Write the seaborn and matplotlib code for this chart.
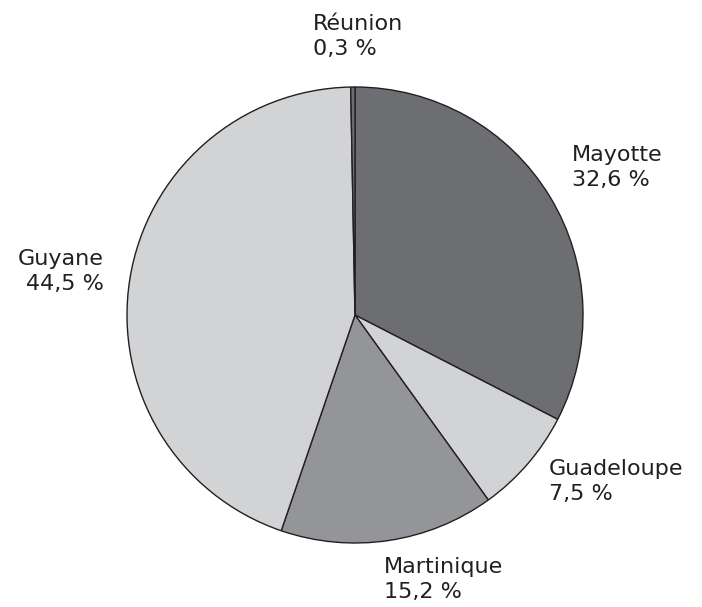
import seaborn as sns
import matplotlib.pyplot as plt

sns.set_theme(style="white")
plt.rcParams["font.family"] = ["DejaVu Sans"]
plt.rcParams["font.sans-serif"] = ["DejaVu Sans"]

# données
regions = ["Mayotte", "Guadeloupe", "Martinique", "Guyane", "Réunion"]
parts = [32.6, 7.5, 15.2, 44.5, 0.3]
couleurs = ["#6d6e71", "#d1d3d4", "#939598", "#d1d3d4", "#6d6e71"]

W, H = 702, 607
cx, cy, r = 355, 315, 228

fig = plt.figure(figsize=(W / 100, H / 100), dpi=100)
ax = fig.add_axes([(cx - r) / W, (H - cy - r) / H, 2 * r / W, 2 * r / H])

ax.pie(parts, colors=couleurs, startangle=90, counterclock=False,
       wedgeprops=dict(edgecolor="#231f20", linewidth=1.0))
ax.set_xlim(-1, 1)
ax.set_ylim(-1, 1)
ax.set_aspect("equal")
ax.axis("off")

# étiquettes (position en pixels du coin du texte, alignement)
etiquettes = {
    "Réunion": (313, 14, "left"),
    "Mayotte": (572, 145, "left"),
    "Guadeloupe": (549, 459, "left"),
    "Martinique": (384, 557, "left"),
    "Guyane": (104, 249, "right"),
}

for nom, val in zip(regions, parts):
    px, py, ha = etiquettes[nom]
    txt = nom + "\n" + f"{val:.1f}".replace(".", ",") + " %"
    fig.text(px / W, 1 - py / H, txt, ha=ha, va="top", multialignment=ha,
             family="DejaVu Sans", fontsize=16, color="#231f20",
             linespacing=1.32)

fig.savefig("out.png", dpi=100)
